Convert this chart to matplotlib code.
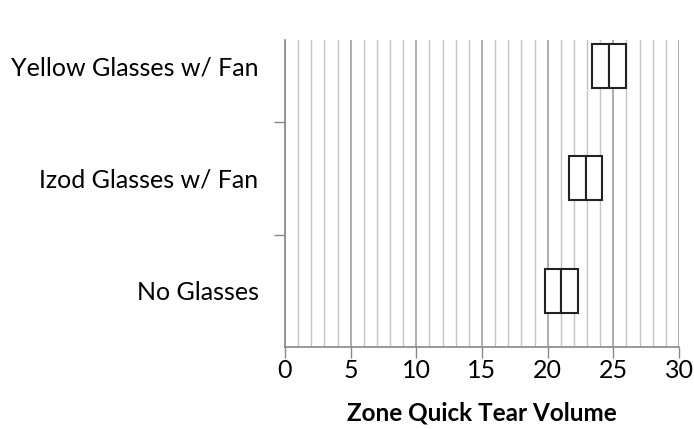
import matplotlib
matplotlib.use("Agg")
import matplotlib.pyplot as plt
import numpy as np

categories = ["No Glasses", "Izod Glasses w/ Fan", "Yellow Glasses w/ Fan"]
q1 = [19.8, 21.6, 23.4]
median = [21.0, 22.9, 24.7]
q3 = [22.3, 24.1, 26.0]
xticks = [0, 5, 10, 15, 20, 25, 30]

plt.rcParams['font.family'] = ['Lato', 'DejaVu Sans']

fig = plt.figure(figsize=(6.94, 4.29), dpi=100)
ax = fig.add_axes([285/694, 1-347/429, (679-285)/694, (347-40)/429])

ypos = np.arange(len(categories))
h = 0.39
ax.barh(ypos, np.array(median) - np.array(q1), left=q1, height=h,
        facecolor='white', edgecolor='#222222', linewidth=1.5, zorder=3)
ax.barh(ypos, np.array(q3) - np.array(median), left=median, height=h,
        facecolor='white', edgecolor='#222222', linewidth=1.5, zorder=3)

ax.set_xlim(0, 30)
ax.set_ylim(-0.5, 2.23)
ax.set_xticks(xticks)
ax.set_xticks(np.arange(0, 31, 1), minor=True)
ax.xaxis.grid(True, which='minor', color='#c4c4c4', linewidth=1.0, zorder=0)
ax.xaxis.grid(True, which='major', color='#a0a0a0', linewidth=1.2, zorder=0)
ax.set_axisbelow(True)

ax.set_yticks(ypos)
ax.set_yticklabels(categories, fontsize=18)
ax.set_yticks([0.5, 1.5], minor=True)
ax.tick_params(axis='y', which='major', length=0, pad=19)
ax.tick_params(axis='y', which='minor', length=8, color='#888888', width=1)
ax.tick_params(axis='x', which='major', length=8, color='#888888', width=1,
               labelsize=18, pad=1)
ax.tick_params(axis='x', which='minor', length=0)

for s in ['top', 'right']:
    ax.spines[s].set_visible(False)
for s in ['left', 'bottom']:
    ax.spines[s].set_color('#888888')
    ax.spines[s].set_linewidth(1.2)

ax.set_xlabel("Zone Quick Tear Volume", fontsize=17.5, fontweight='bold', labelpad=14)

fig.savefig("out.png", dpi=100)
